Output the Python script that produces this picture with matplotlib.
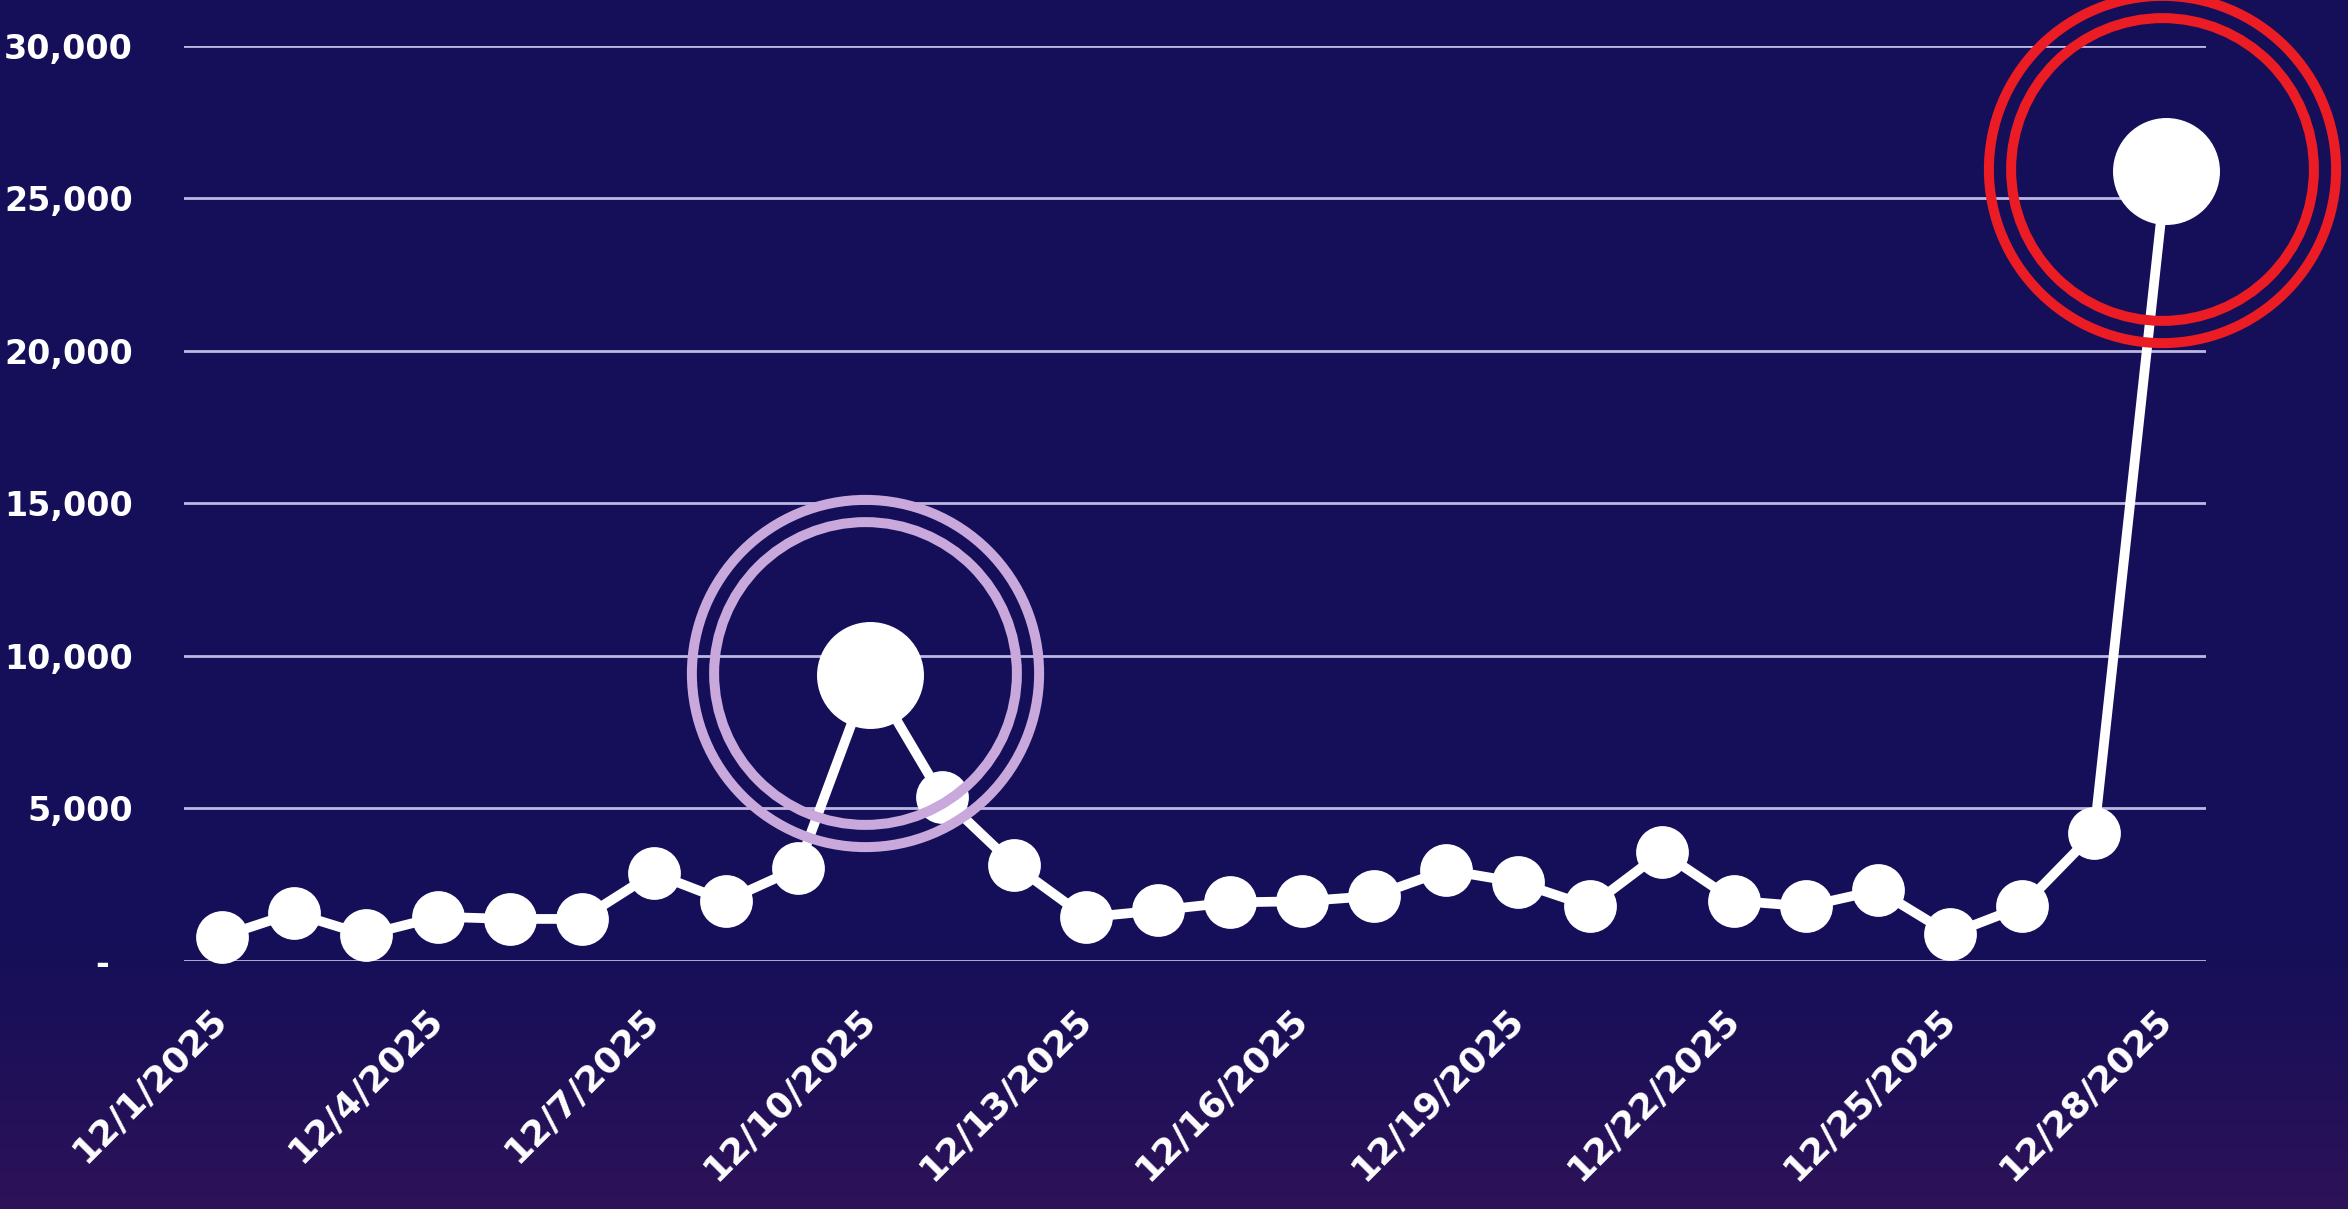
import numpy as np
import matplotlib
matplotlib.use("Agg")
import matplotlib.pyplot as plt
from matplotlib.colors import LinearSegmentedColormap
from matplotlib.ticker import FuncFormatter

# daily values, Dec 1 - Dec 28 2025
days = list(range(1, 29))
values = [800, 1580, 850, 1450, 1380, 1380, 2880, 1970, 3040, 9380,
          5390, 3150, 1430, 1660, 1920, 1960, 2130, 2980, 2580, 1790,
          3570, 1980, 1790, 2320, 880, 1790, 4210, 25900]
labels = [f"12/{d}/2025" for d in days]
label_every = 3
big_idx = [9, 27]           # highlighted points
ring_colors = ["#c9a8dc", "#ec1c24"]
yticks = [0, 5000, 10000, 15000, 20000, 25000, 30000]

bg_top = "#140f58"
bg_bottom = "#2d1259"

fig = plt.figure(figsize=(23.48, 12.09), dpi=100)
fig.patch.set_facecolor(bg_top)

# background gradient
bg = fig.add_axes([0, 0, 1, 1], zorder=-10)
grad = np.concatenate([np.zeros(75), np.linspace(0, 1, 25) ** 1.3])[:, None]
cmap = LinearSegmentedColormap.from_list("bg", [bg_top, bg_bottom])
bg.imshow(grad, aspect="auto", cmap=cmap, extent=[0, 1, 0, 1], origin="upper")
bg.axis("off")

ax = fig.add_axes([0.0784, 0.2051, 0.9395 - 0.0784, 0.9622 - 0.2051])
ax.set_facecolor("none")

x = np.arange(len(values))
ax.plot(x, values, color="white", lw=7, zorder=3, clip_on=False,
        marker="o", markersize=38, markerfacecolor="white", markeredgewidth=0)
for i in big_idx:
    ax.plot(x[i], values[i], "o", color="white", markersize=76, zorder=4, clip_on=False)
for i, c in zip(big_idx, ring_colors):
    for s in (250, 218):
        ax.plot(x[i] - 0.06, values[i] + 60, "o", markersize=s, markerfacecolor="none",
                markeredgecolor=c, markeredgewidth=7.2, zorder=5, clip_on=False)

ax.set_xlim(-0.52, len(values) - 1 + 0.55)
ax.set_ylim(0, 30000)
ax.set_yticks(yticks)
ax.yaxis.set_major_formatter(FuncFormatter(lambda v, p: "-  " if v == 0 else f"{int(v):,}"))
ax.set_xticks(x[::label_every])
ax.set_xticklabels(labels[::label_every], rotation=45, ha="right", va="center",
                   rotation_mode="anchor")

ax.grid(axis="y", color="#bdb8e2", lw=2)
ax.set_axisbelow(True)
for sp in ax.spines.values():
    sp.set_visible(False)
ax.tick_params(axis="y", length=0, pad=37, labelsize=24, labelcolor="white")
ax.tick_params(axis="x", length=0, pad=38, labelsize=26, labelcolor="white")
for t in ax.get_xticklabels() + ax.get_yticklabels():
    t.set_fontweight("bold")
    t.set_fontfamily("DejaVu Sans")

fig.savefig("out.png", dpi=100, facecolor=fig.get_facecolor())
